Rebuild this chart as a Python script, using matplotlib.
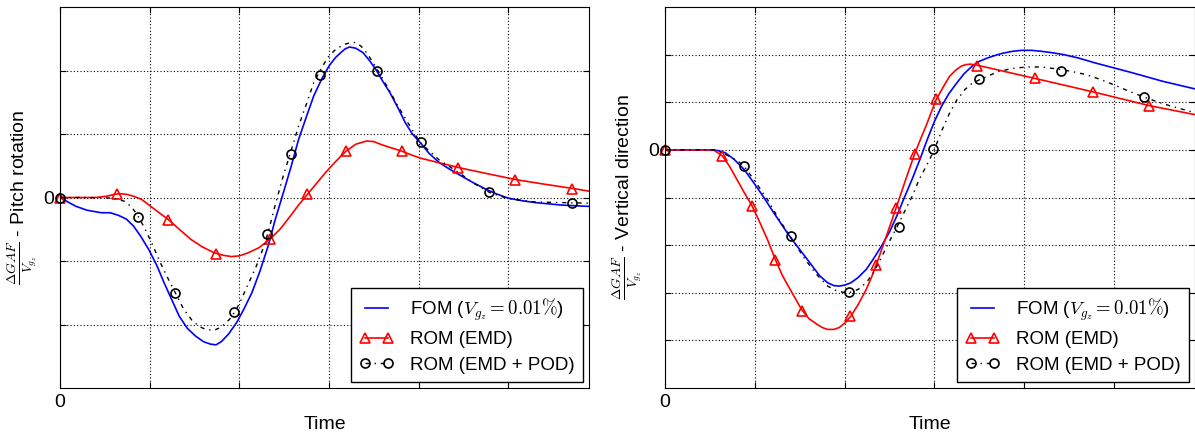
"""
FOM vs. ROM comparison of the gust aerodynamic force response
(pitch rotation and vertical direction).
"""

import matplotlib
matplotlib.use("Agg")
import matplotlib.pyplot as plt
from matplotlib.lines import Line2D


OUTPUT_PATH = "out.png"

# ---- left panel: pitch rotation ----
pitch_fom_t = [0.0, 0.10, 0.18, 0.30, 0.46, 0.56, 0.65, 0.74, 0.82, 0.90, 0.99,
               1.08, 1.16, 1.25, 1.33, 1.42, 1.51, 1.60, 1.68, 1.74, 1.80, 1.88,
               1.97, 2.05, 2.14, 2.23, 2.32, 2.40, 2.49, 2.58, 2.66, 2.75, 2.83,
               2.92, 3.00, 3.07, 3.13, 3.18, 3.23, 3.30, 3.38, 3.45, 3.53, 3.60,
               3.68, 3.77, 3.85, 3.93, 4.02, 4.12, 4.23, 4.34, 4.45, 4.60, 4.75,
               4.88, 5.00, 5.15, 5.30, 5.60, 5.90]
pitch_fom_v = [0.0, -0.08, -0.14, -0.20, -0.24, -0.24, -0.28, -0.34, -0.45, -0.61,
               -0.82, -1.07, -1.34, -1.62, -1.87, -2.06, -2.18, -2.27, -2.31, -2.32,
               -2.27, -2.15, -1.97, -1.76, -1.50, -1.16, -0.77, -0.35, 0.07, 0.50,
               0.91, 1.28, 1.60, 1.87, 2.07, 2.20, 2.28, 2.34, 2.37, 2.35, 2.28,
               2.16, 2.00, 1.83, 1.65, 1.41, 1.18, 1.00, 0.86, 0.69, 0.55, 0.45,
               0.36, 0.24, 0.13, 0.05, -0.01, -0.05, -0.08, -0.12, -0.14]

pitch_emd_t = [0.0, 0.40, 0.52, 0.61, 0.68, 0.74, 0.82, 0.91, 1.05, 1.21, 1.33,
               1.46, 1.59, 1.72, 1.82, 1.91, 2.00, 2.10, 2.22, 2.34, 2.46, 2.57,
               2.66, 2.76, 2.86, 2.96, 3.07, 3.19, 3.30, 3.42, 3.50, 3.59, 3.70,
               3.81, 3.92, 4.02, 4.22, 4.45, 4.75, 5.09, 5.40, 5.73, 5.90]
pitch_emd_v = [0.0, 0.0, 0.02, 0.05, 0.06, 0.05, 0.02, -0.03, -0.18, -0.35, -0.50,
               -0.66, -0.78, -0.87, -0.91, -0.93, -0.92, -0.87, -0.79, -0.66,
               -0.49, -0.29, -0.12, 0.05, 0.22, 0.39, 0.56, 0.73, 0.84, 0.89, 0.88,
               0.83, 0.78, 0.73, 0.67, 0.62, 0.55, 0.47, 0.38, 0.28, 0.21, 0.14,
               0.10]
pitch_emd_mark_t = [0.0, 0.64, 1.21, 1.74, 2.34, 2.76, 3.19, 3.81, 4.44, 5.08, 5.71]
pitch_emd_mark_v = [0.0, 0.05, -0.35, -0.89, -0.66, 0.05, 0.73, 0.73, 0.47, 0.28, 0.14]

pitch_pod_t = [0.0, 0.30, 0.60, 0.72, 0.80, 0.87, 0.95, 1.04, 1.12, 1.21, 1.30,
               1.38, 1.47, 1.55, 1.63, 1.72, 1.80, 1.89, 1.96, 2.02, 2.10, 2.19,
               2.26, 2.32, 2.40, 2.49, 2.58, 2.66, 2.75, 2.83, 2.92, 3.00, 3.08,
               3.17, 3.24, 3.30, 3.36, 3.42, 3.48, 3.55, 3.66, 3.77, 3.90, 4.02,
               4.23, 4.45, 4.62, 4.79, 5.00, 5.30, 5.90]
pitch_pod_v = [0.0, 0.0, -0.01, -0.06, -0.15, -0.29, -0.50, -0.77, -1.03, -1.29,
               -1.54, -1.76, -1.93, -2.03, -2.08, -2.09, -2.04, -1.92, -1.78, -1.61,
               -1.36, -1.08, -0.82, -0.56, -0.12, 0.34, 0.75, 1.12, 1.48, 1.81,
               2.05, 2.23, 2.34, 2.41, 2.44, 2.44, 2.38, 2.28, 2.15, 1.99, 1.72,
               1.44, 1.13, 0.86, 0.59, 0.39, 0.22, 0.08, -0.02, -0.07, -0.09]
pitch_pod_mark_t = [0.0, 0.87, 1.28, 1.94, 2.31, 2.58, 2.90, 3.53, 4.03, 4.78, 5.71]
pitch_pod_mark_v = [0.0, -0.30, -1.50, -1.81, -0.57, 0.68, 1.93, 2.00, 0.87, 0.08, -0.09]

# ---- right panel: vertical direction ----
vert_fom_t = [0.0, 0.54, 0.60, 0.67, 0.77, 0.88, 0.98, 1.09, 1.20, 1.31, 1.39,
              1.47, 1.56, 1.64, 1.72, 1.81, 1.88, 1.94, 2.00, 2.07, 2.15, 2.24,
              2.32, 2.41, 2.50, 2.58, 2.66, 2.75, 2.84, 2.92, 3.00, 3.08, 3.16,
              3.25, 3.33, 3.42, 3.50, 3.59, 3.67, 3.76, 3.87, 3.97, 4.08, 4.19,
              4.31, 4.44, 4.60, 4.78, 5.00, 5.20, 5.54, 5.90]
vert_fom_v = [0.0, 0.0, -0.02, -0.06, -0.20, -0.41, -0.67, -0.97, -1.29, -1.60,
              -1.82, -2.02, -2.24, -2.44, -2.64, -2.79, -2.85, -2.86, -2.84, -2.79,
              -2.68, -2.51, -2.29, -2.02, -1.72, -1.39, -1.02, -0.62, -0.19, 0.22,
              0.60, 0.92, 1.18, 1.41, 1.60, 1.76, 1.86, 1.93, 1.98, 2.03, 2.07,
              2.09, 2.09, 2.07, 2.04, 2.00, 1.93, 1.83, 1.72, 1.62, 1.44, 1.28]

vert_emd_t = [0.0, 0.54, 0.64, 0.72, 0.80, 0.88, 0.97, 1.05, 1.14, 1.23, 1.31,
              1.42, 1.52, 1.60, 1.69, 1.75, 1.81, 1.88, 1.94, 2.00, 2.07, 2.15,
              2.24, 2.30, 2.36, 2.47, 2.58, 2.68, 2.78, 2.85, 2.92, 2.97, 3.02,
              3.10, 3.17, 3.24, 3.30, 3.35, 3.40, 3.47, 4.12, 4.76, 5.39, 5.90]
vert_emd_v = [0.0, 0.0, -0.13, -0.35, -0.62, -0.89, -1.18, -1.50, -1.88, -2.31,
              -2.65, -3.02, -3.35, -3.54, -3.66, -3.73, -3.77, -3.77, -3.73, -3.64,
              -3.49, -3.25, -2.93, -2.67, -2.37, -1.78, -1.18, -0.62, -0.08, 0.25,
              0.57, 0.82, 1.06, 1.33, 1.55, 1.68, 1.76, 1.79, 1.80, 1.78, 1.50,
              1.22, 0.93, 0.74]
vert_emd_mark_t = [0.0, 0.64, 0.97, 1.23, 1.53, 2.06, 2.35, 2.57, 2.78, 3.02,
                   3.47, 4.12, 4.76, 5.39]
vert_emd_mark_v = [0.0, -0.13, -1.18, -2.31, -3.39, -3.49, -2.42, -1.22, -0.08,
                   1.06, 1.77, 1.50, 1.22, 0.93]

vert_pod_t = [0.0, 0.54, 0.62, 0.71, 0.80, 0.88, 1.01, 1.14, 1.26, 1.39, 1.48,
              1.56, 1.68, 1.81, 1.90, 1.98, 2.06, 2.15, 2.24, 2.32, 2.40, 2.49,
              2.58, 2.66, 2.75, 2.83, 2.92, 3.00, 3.08, 3.17, 3.25, 3.34, 3.42,
              3.51, 3.62, 3.72, 3.87, 4.02, 4.19, 4.36, 4.52, 4.69, 4.86, 5.03,
              5.18, 5.33, 5.48, 5.63, 5.90]
vert_pod_v = [0.0, 0.0, -0.05, -0.13, -0.22, -0.34, -0.68, -1.04, -1.43, -1.81,
              -2.07, -2.30, -2.60, -2.86, -2.95, -2.99, -2.99, -2.93, -2.79,
              -2.58, -2.29, -1.95, -1.63, -1.32, -0.98, -0.62, -0.30, 0.01, 0.40,
              0.78, 1.05, 1.27, 1.40, 1.48, 1.57, 1.65, 1.71, 1.74, 1.74, 1.70,
              1.65, 1.58, 1.47, 1.34, 1.22, 1.11, 1.01, 0.92, 0.78]
vert_pod_mark_t = [0.0, 0.88, 1.40, 2.05, 2.61, 2.98, 3.50, 4.41, 5.33]
vert_pod_mark_v = [0.0, -0.34, -1.81, -2.99, -1.62, 0.01, 1.48, 1.66, 1.11]

X_TICKS = [0, 1, 2, 3, 4, 5]
LEGEND_LABELS = [r"FOM ($V_{g_z}=0.01\%$)", "ROM (EMD)", "ROM (EMD + POD)"]
POD_DASHES = (0, (3, 3.5, 1, 3.5))


def draw_panel(ax, fom, emd, emd_mark, pod, pod_mark, ylim, ylabel):
    ax.plot(fom[0], fom[1], color="#0000ff", linewidth=1.2)
    ax.plot(emd[0], emd[1], color="#ff0000", linewidth=1.2)
    ax.plot(emd_mark[0], emd_mark[1], linestyle="none", marker="^",
            markersize=7, markerfacecolor="none", markeredgecolor="#ff0000",
            markeredgewidth=1.2, clip_on=False)
    ax.plot(pod[0], pod[1], color="black", linestyle=POD_DASHES, linewidth=1.0)
    ax.plot(pod_mark[0], pod_mark[1], linestyle="none", marker="o",
            markersize=6.5, markerfacecolor="none", markeredgecolor="black",
            markeredgewidth=1.2, clip_on=False)

    ax.set_xlim(0, 5.9)
    ax.set_ylim(*ylim)
    ax.set_xticks(X_TICKS)
    ax.set_xticklabels(["0"] + [""] * (len(X_TICKS) - 1))
    yticks = list(range(ylim[0] + 1, ylim[1]))
    ax.set_yticks(yticks)
    ax.set_yticklabels(["0" if t == 0 else "" for t in yticks])
    ax.tick_params(direction="in", top=True, right=True, labelsize=14, length=4,
                   pad=4)
    ax.grid(True, color="black", linestyle=(0, (1, 2)), linewidth=0.8)
    ax.set_xlabel("Time", fontsize=14)
    ax.set_ylabel(ylabel, fontsize=14, labelpad=3)

    handles = [
        Line2D([], [], color="#0000ff", linewidth=1.2),
        Line2D([], [], color="#ff0000", linewidth=1.2, marker="^", markersize=7,
               markerfacecolor="none", markeredgewidth=1.2),
        Line2D([], [], color="black", linestyle=POD_DASHES, linewidth=1.0,
               marker="o", markersize=6.5, markerfacecolor="none",
               markeredgewidth=1.2),
    ]
    leg = ax.legend(handles, LEGEND_LABELS, loc="lower right", numpoints=2,
                    fontsize=13.5, fancybox=False, framealpha=1,
                    edgecolor="black", handlelength=1.8, handletextpad=0.9,
                    borderaxespad=0.3, labelspacing=0.45, borderpad=0.45)
    leg.get_frame().set_linewidth(1.0)


def main():
    plt.rcParams["font.family"] = ["Liberation Sans", "DejaVu Sans"]
    plt.rcParams["mathtext.fontset"] = "cm"

    fig = plt.figure(figsize=(11.95, 4.34), dpi=100)
    ax1 = fig.add_axes([60 / 1195, 1 - 388 / 434, 529 / 1195, 381 / 434])
    ax2 = fig.add_axes([665 / 1195, 1 - 388 / 434, 530 / 1195, 381 / 434])

    draw_panel(ax1, (pitch_fom_t, pitch_fom_v), (pitch_emd_t, pitch_emd_v),
               (pitch_emd_mark_t, pitch_emd_mark_v), (pitch_pod_t, pitch_pod_v),
               (pitch_pod_mark_t, pitch_pod_mark_v), (-3, 3),
               r"$\frac{\Delta GAF}{V_{g_z}}$ - Pitch rotation")
    draw_panel(ax2, (vert_fom_t, vert_fom_v), (vert_emd_t, vert_emd_v),
               (vert_emd_mark_t, vert_emd_mark_v), (vert_pod_t, vert_pod_v),
               (vert_pod_mark_t, vert_pod_mark_v), (-5, 3),
               r"$\frac{\Delta GAF}{V_{g_z}}$ - Vertical direction")

    fig.savefig(OUTPUT_PATH, dpi=100)
    plt.close(fig)


if __name__ == "__main__":
    main()
